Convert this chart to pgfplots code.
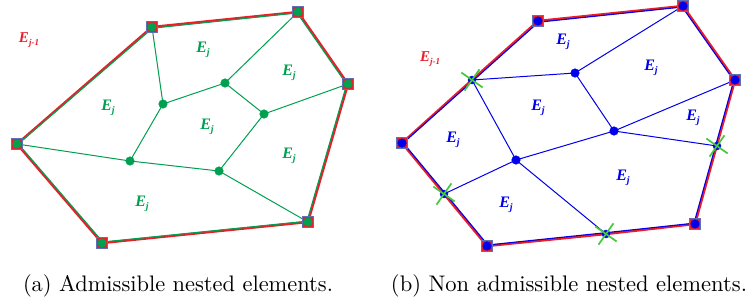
\documentclass[border=0pt]{standalone}
\usepackage{fontspec}
\usepackage{pgfplots}
\pgfplotsset{compat=1.18}
\usepackage{graphicx}
\newfontfamily\tnr{Liberation Serif}
\definecolor{myred}{RGB}{235,30,40}
\definecolor{dgreen}{RGB}{0,160,80}
\definecolor{lgreen}{RGB}{70,200,60}
\definecolor{sqb}{RGB}{100,110,180}
\definecolor{myblue}{RGB}{0,0,235}
\newcommand{\Ej}{E\raisebox{-0.35ex}{\fontsize{10}{10}\selectfont j}}
\newcommand{\Ejm}{E\raisebox{-0.35ex}{\fontsize{9}{9}\selectfont j-1}}
\tikzset{labelj/.style={font=\tnr\bfseries\itshape\fontsize{16}{16}\selectfont},
  labelm/.style={font=\tnr\bfseries\itshape\fontsize{15}{15}\selectfont, text=myred}}
\begin{document}
\begin{tikzpicture}
\begin{axis}[hide axis, scale only axis, width=748pt, height=306pt,
  xmin=0, xmax=748, ymin=0, ymax=306, y dir=reverse, clip=false]
\path (rel axis cs:0,0) rectangle (rel axis cs:1,1);
% ---------- left panel ----------
\addplot[myred, line width=2.4pt] coordinates {(152,27) (298,12) (348,84) (308,222) (102,243) (17,144) (152,27)};
\addplot[dgreen, line width=1.1pt] coordinates {(152.5,28.2) (297.1,12.9) (346.7,84.3) (307,221.2) (102.8,242) (18.3,143.9) (152.5,28.2)};
\addplot[dgreen, line width=1pt] coordinates {(152,27) (163,104) (225,83) (298,12)};
\addplot[dgreen, line width=1pt] coordinates {(225,83) (264,114) (348,84)};
\addplot[dgreen, line width=1pt] coordinates {(163,104) (130,161) (17,144)};
\addplot[dgreen, line width=1pt] coordinates {(130,161) (219,171) (264,114)};
\addplot[dgreen, line width=1pt] coordinates {(219,171) (308,222)};
\addplot[only marks, mark=square*, mark size=5.5pt, mark options={fill=myred, draw=sqb, line width=1pt}] coordinates {(152,27) (298,12) (348,84) (308,222) (102,243) (17,144)};
\addplot[only marks, mark=*, mark size=4.3pt, mark options={fill=dgreen, draw=dgreen}] coordinates {(152,27) (298,12) (348,84) (308,222) (102,243) (17,144) (163,104) (225,83) (264,114) (130,161) (219,171)};
% ---------- right panel ----------
\addplot[myred, line width=2.4pt] coordinates {(538,21) (683,6) (735,80) (695,224) (606,234) (487,246) (444,194) (402,143) (472,80) (538,21)};
\addplot[myblue, line width=1.1pt] coordinates {(538.5,22.2) (682.2,7) (733.8,80.4) (694,223.2) (605.7,232.7) (487.8,245) (445.2,193.4) (403.3,142.9) (473.2,80.5) (538.5,22.2)};
\addplot[myblue, line width=1pt] coordinates {(472,80) (575,73) (683,6)};
\addplot[myblue, line width=1pt] coordinates {(575,73) (614,131) (735,80)};
\addplot[myblue, line width=1pt] coordinates {(614,131) (717,146)};
\addplot[myblue, line width=1pt] coordinates {(472,80) (516,160) (614,131)};
\addplot[myblue, line width=1pt] coordinates {(516,160) (444,194)};
\addplot[myblue, line width=1pt] coordinates {(516,160) (606,234)};
\addplot[only marks, mark=square*, mark size=5.5pt, mark options={fill=myred, draw=sqb, line width=1pt}] coordinates {(538,21) (683,6) (735,80) (695,224) (487,246) (402,143)};
\addplot[only marks, mark=*, mark size=4.3pt, mark options={fill=myblue, draw=myblue}] coordinates {(538,21) (683,6) (735,80) (695,224) (487,246) (402,143) (575,73) (614,131) (516,160)};
\addplot[only marks, mark=*, mark size=4pt, mark options={fill=myblue, draw=myblue}] coordinates {(472,80) (444,194) (606,234) (717,146)};
\addplot[only marks, mark=x, mark size=13pt, mark options={draw=lgreen, line width=1.7pt, rotate=10}] coordinates {(472,80) (444,194) (606,234) (717,146)};
% ---------- labels ----------
\node[labelm] at (axis cs:29,40) {\Ejm};
\node[labelj, text=dgreen] at (axis cs:203,50) {\Ej};
\node[labelj, text=dgreen] at (axis cs:289,73) {\Ej};
\node[labelj, text=dgreen] at (axis cs:108,108) {\Ej};
\node[labelj, text=dgreen] at (axis cs:207,127) {\Ej};
\node[labelj, text=dgreen] at (axis cs:289,156) {\Ej};
\node[labelj, text=dgreen] at (axis cs:142,204) {\Ej};
\node[labelm] at (axis cs:430,59) {\Ejm};
\node[labelj, text=myblue] at (axis cs:563,42) {\Ej};
\node[labelj, text=myblue] at (axis cs:651,68) {\Ej};
\node[labelj, text=myblue] at (axis cs:538,108) {\Ej};
\node[labelj, text=myblue] at (axis cs:693,118) {\Ej};
\node[labelj, text=myblue] at (axis cs:453,140) {\Ej};
\node[labelj, text=myblue] at (axis cs:623,178) {\Ej};
\node[labelj, text=myblue] at (axis cs:506,205) {\Ej};
% ---------- captions ----------
\node[inner sep=0pt] at (axis cs:178,286) {\resizebox{310pt}{!}{\rmfamily (a) Admissible nested elements.}};
\node[inner sep=0pt] at (axis cs:569,286) {\resizebox{356pt}{!}{\rmfamily (b) Non admissible nested elements.}};
\end{axis}
\end{tikzpicture}
\end{document}
